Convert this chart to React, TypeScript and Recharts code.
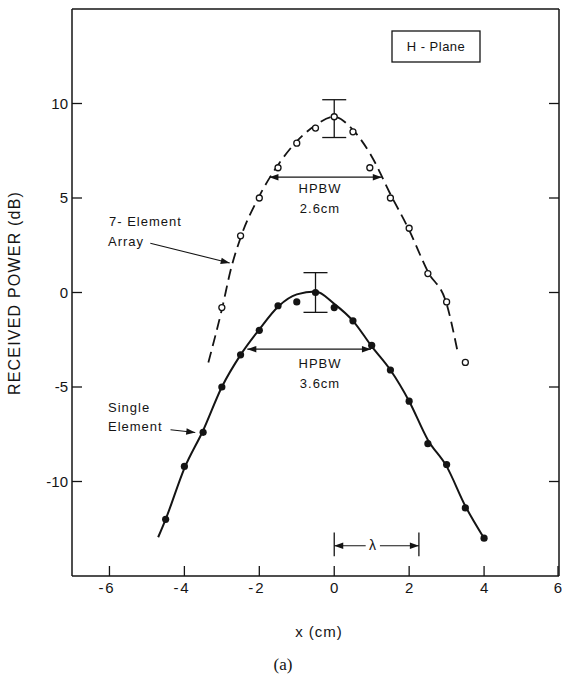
import React from "react";
import {
  ComposedChart,
  Line,
  Scatter,
  XAxis,
  YAxis,
  ErrorBar,
  ReferenceLine,
} from "recharts";

// measured points, 7-element array (open circles)
const arrayX = [-3, -2.5, -2, -1.5, -1, -0.5, 0, 0.5, 0.95, 1.5, 2, 2.5, 3, 3.5];
const arrayDb = [-0.8, 3.0, 5.0, 6.6, 7.9, 8.7, 9.3, 8.5, 6.6, 5.0, 3.4, 1.0, -0.5, -3.7];

// measured points, single element (filled)
const singleX = [-4.5, -4, -3.5, -3, -2.5, -2, -1.5, -1, -0.5, 0, 0.5, 1, 1.5, 2, 2.5, 3, 3.5, 4];
const singleDb = [-12, -9.2, -7.4, -5, -3.3, -2, -0.7, -0.5, 0, -0.8, -1.5, -2.8, -4.1, -5.75, -8, -9.1, -11.4, -13];

// hand-drawn fit curves
const arrayFitX = [-3.36, -3, -2.75, -2.5, -2, -1.5, -1, -0.5, 0, 0.5, 1, 1.5, 2, 2.5, 3, 3.28];
const arrayFitDb = [-3.7, -0.9, 1.3, 2.9, 5.1, 6.75, 8.0, 8.85, 9.3, 8.6, 7.2, 5.2, 3.3, 1.1, -0.6, -3.0];
const singleFitX = [-4.7, -4.5, -4, -3.5, -3, -2.5, -2, -1.5, -1, -0.5, 0, 0.5, 1, 1.5, 2, 2.5, 3, 3.5, 4];
const singleFitDb = [-12.95, -12.0, -9.3, -7.3, -5.0, -3.3, -1.95, -0.75, -0.1, 0.05, -0.6, -1.5, -2.85, -4.1, -5.75, -7.8, -9.2, -11.3, -13.0];

// error bars [x, y, below, above]
const arrayErr = [{ x: 0, y: 9.3, err: [1.1, 0.9] }];
const singleErr = [{ x: -0.5, y: 0, err: [1.05, 1.05] }];

const xTicks = [-6, -4, -2, 0, 2, 4, 6];
const topTicks = [-6, -4, -2, 0, 2, 4];
const yTicks = [-10, -5, 0, 5, 10];

// annotation segments (data coords)
const hpbwArray = [{ x: -1.73, y: 6.1 }, { x: 1.27, y: 6.1 }];
const hpbwSingle = [{ x: -2.32, y: -3.0 }, { x: 0.98, y: -3.0 }];
const arrayPointer = [{ x: -4.91, y: 2.61 }, { x: -2.79, y: 1.56 }];
const singlePointer = [{ x: -4.37, y: -7.26 }, { x: -3.71, y: -7.41 }];
const lambdaLeft = [{ x: 0.84, y: -13.4 }, { x: 0, y: -13.4 }];
const lambdaRight = [{ x: 1.22, y: -13.4 }, { x: 2.26, y: -13.4 }];
const lambdaBarA = [{ x: 0, y: -12.7 }, { x: 0, y: -13.96 }];
const lambdaBarB = [{ x: 2.26, y: -12.7 }, { x: 2.26, y: -13.96 }];

const zip = (xs: number[], ys: number[]) => xs.map((x, i) => ({ x, y: ys[i] }));

const INK = "#141414";
const FONT = "'Liberation Sans', Arial, sans-serif";

const arrowShape = (heads: "start" | "end" | "both", width = 1.3) => (p: any) => {
  const { x1, y1, x2, y2 } = p;
  const a = Math.atan2(y2 - y1, x2 - x1);
  const head = (x: number, y: number, ang: number) => {
    const L = 9;
    const W = 3.2;
    const bx = x - L * Math.cos(ang);
    const by = y - L * Math.sin(ang);
    const pts = `${x},${y} ${bx - W * Math.sin(ang)},${by + W * Math.cos(ang)} ${bx + W * Math.sin(ang)},${by - W * Math.cos(ang)}`;
    return <polygon points={pts} fill={INK} />;
  };
  return (
    <g>
      <line x1={x1} y1={y1} x2={x2} y2={y2} stroke={INK} strokeWidth={width} />
      {heads !== "start" && head(x2, y2, a)}
      {heads !== "end" && head(x1, y1, a + Math.PI)}
    </g>
  );
};

const plainShape = (p: any) => (
  <line x1={p.x1} y1={p.y1} x2={p.x2} y2={p.y2} stroke={INK} strokeWidth={1.3} />
);

const BottomTick = (props: any) => {
  const { x, y, payload } = props;
  const v = payload.value as number;
  return (
    <g>
      <line x1={x} x2={x} y1={y} y2={y - 10} stroke={INK} strokeWidth={1.3} />
      <text x={x} y={y + 17} textAnchor="middle" fontSize={15} fontFamily={FONT} fill={INK}>
        {Math.abs(v)}
      </text>
      {v < 0 && (
        <text x={x - 6} y={y + 17} textAnchor="end" fontSize={15} fontFamily={FONT} fill={INK}>
          -
        </text>
      )}
    </g>
  );
};

const TopTick = (props: any) => {
  const { x, y } = props;
  return <line x1={x} x2={x} y1={y} y2={y + 10} stroke={INK} strokeWidth={1.3} />;
};

const LeftTick = (props: any) => {
  const { x, y, payload } = props;
  return (
    <g>
      <line x1={x} x2={x + 10} y1={y} y2={y} stroke={INK} strokeWidth={1.3} />
      <text x={x - 4} y={y} dy="0.36em" textAnchor="end" fontSize={15} fontFamily={FONT} fill={INK}>
        {payload.value}
      </text>
    </g>
  );
};

const RightTick = (props: any) => {
  const { x, y } = props;
  return <line x1={x} x2={x - 10} y1={y} y2={y} stroke={INK} strokeWidth={1.3} />;
};

const OpenDot = (p: any) => (
  <circle cx={p.cx} cy={p.cy} r={3} fill="#fff" stroke={INK} strokeWidth={1.3} />
);
const FilledDot = (p: any) => <circle cx={p.cx} cy={p.cy} r={3.6} fill={INK} />;
const NoDot = () => <g />;

const App = () => {
  const axisLine = { stroke: INK, strokeWidth: 1.5 };
  const txt = { fontFamily: FONT, fill: INK, fontSize: 13, letterSpacing: 1 } as const;

  return (
    <div style={{ position: "absolute", left: 0, top: 0, width: 562, height: 677, background: "#fff" }}>
      <ComposedChart width={562} height={677} margin={{ top: 8, right: 2, bottom: 71, left: 32 }}>
        <XAxis
          dataKey="x"
          type="number"
          domain={[-7, 6]}
          ticks={xTicks}
          allowDataOverflow
          height={30}
          axisLine={axisLine}
          tickLine={false}
          tickSize={0}
          tickMargin={0}
          tick={<BottomTick />}
        />
        <XAxis
          xAxisId="top"
          orientation="top"
          type="number"
          domain={[-7, 6]}
          ticks={topTicks}
          allowDataOverflow
          height={1}
          axisLine={axisLine}
          tickLine={false}
          tickSize={0}
          tickMargin={0}
          tick={<TopTick />}
        />
        <YAxis
          dataKey="y"
          type="number"
          domain={[-15, 15]}
          ticks={yTicks}
          allowDataOverflow
          width={40}
          axisLine={axisLine}
          tickLine={false}
          tickSize={0}
          tickMargin={0}
          tick={<LeftTick />}
        />
        <YAxis
          yAxisId="right"
          orientation="right"
          type="number"
          domain={[-15, 15]}
          ticks={yTicks}
          allowDataOverflow
          width={1}
          axisLine={axisLine}
          tickLine={false}
          tickSize={0}
          tickMargin={0}
          tick={<RightTick />}
        />

        <Line
          data={zip(arrayFitX, arrayFitDb)}
          dataKey="y"
          type="monotone"
          stroke={INK}
          strokeWidth={1.8}
          strokeDasharray="11 6"
          dot={false}
          isAnimationActive={false}
        />
        <Line
          data={zip(singleFitX, singleFitDb)}
          dataKey="y"
          type="monotone"
          stroke={INK}
          strokeWidth={2}
          dot={false}
          isAnimationActive={false}
        />

        <Scatter data={arrayErr} dataKey="y" shape={NoDot} isAnimationActive={false}>
          <ErrorBar dataKey="err" direction="y" width={12} stroke={INK} strokeWidth={1.3} isAnimationActive={false} />
        </Scatter>
        <Scatter data={singleErr} dataKey="y" shape={NoDot} isAnimationActive={false}>
          <ErrorBar dataKey="err" direction="y" width={12} stroke={INK} strokeWidth={1.3} isAnimationActive={false} />
        </Scatter>

        <Scatter data={zip(arrayX, arrayDb)} dataKey="y" shape={OpenDot} isAnimationActive={false} />
        <Scatter data={zip(singleX, singleDb)} dataKey="y" shape={FilledDot} isAnimationActive={false} />

        <ReferenceLine segment={hpbwArray} ifOverflow="visible" shape={arrowShape("both")} />
        <ReferenceLine segment={hpbwSingle} ifOverflow="visible" shape={arrowShape("both")} />
        <ReferenceLine segment={arrayPointer} ifOverflow="visible" shape={arrowShape("end", 1.1)} />
        <ReferenceLine segment={singlePointer} ifOverflow="visible" shape={arrowShape("end", 1.1)} />
        <ReferenceLine segment={lambdaLeft} ifOverflow="visible" shape={arrowShape("end", 1)} />
        <ReferenceLine segment={lambdaRight} ifOverflow="visible" shape={arrowShape("end", 1)} />
        <ReferenceLine segment={lambdaBarA} ifOverflow="visible" shape={plainShape} />
        <ReferenceLine segment={lambdaBarB} ifOverflow="visible" shape={plainShape} />
      </ComposedChart>

      <svg
        width={562}
        height={677}
        style={{ position: "absolute", left: 0, top: 0, pointerEvents: "none" }}
      >
        <text
          transform="translate(20,293) rotate(-90)"
          textAnchor="middle"
          fontFamily={FONT}
          fontSize={16}
          letterSpacing={1.2}
          fill={INK}
        >
          RECEIVED POWER (dB)
        </text>
        <text x={319} y={637} textAnchor="middle" fontFamily={FONT} fontSize={15} letterSpacing={1} fill={INK}>
          x (cm)
        </text>
        <text x={283} y={670} textAnchor="middle" fontFamily="'Liberation Serif', 'Times New Roman', serif" fontSize={17} fill={INK}>
          (a)
        </text>

        <rect x={392} y={31} width={88} height={31} fill="none" stroke={INK} strokeWidth={1.3} />
        <text x={436} y={51} textAnchor="middle" {...txt} fontSize={13} letterSpacing={0.5}>
          H - Plane
        </text>

        <text x={109} y={226} {...txt}>7- Element</text>
        <text x={108} y={246} {...txt}>Array</text>
        <text x={108} y={412} {...txt}>Single</text>
        <text x={108} y={431} {...txt}>Element</text>

        <text x={320} y={193} textAnchor="middle" {...txt}>HPBW</text>
        <text x={320} y={213} textAnchor="middle" {...txt}>2.6cm</text>
        <text x={320} y={368} textAnchor="middle" {...txt}>HPBW</text>
        <text x={320} y={388} textAnchor="middle" {...txt}>3.6cm</text>

        <text x={373} y={550} textAnchor="middle" {...txt} fontSize={14}>λ</text>
      </svg>
    </div>
  );
};

export default App;
